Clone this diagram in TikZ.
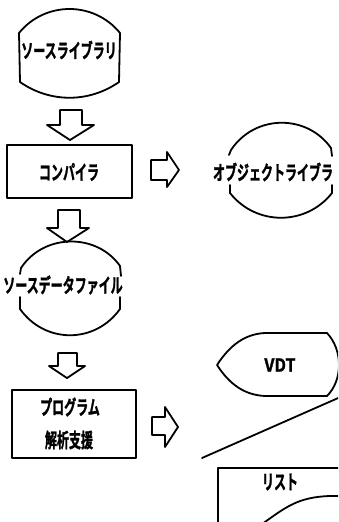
\documentclass[tikz,border=0pt]{standalone}
\usepackage{fontspec}
\newfontfamily\jp[FakeStretch=0.6,FakeBold=1.2]{Noto Sans CJK JP Bold}
\newfontfamily\jplatin[FakeStretch=0.9,FakeBold=1.2]{Noto Sans CJK JP Bold}
\begin{document}
\begin{tikzpicture}[x=1pt,y=-1pt,
  outline/.style={line width=1.8pt,line join=round,line cap=round},
  label/.style={font=\jp\fontsize{20}{20}\selectfont,inner sep=0pt},
  latinlabel/.style={font=\jplatin\fontsize{18}{18}\selectfont,inner sep=0pt}]
\useasboundingbox (0,0) rectangle (338,522);
\fill[white] (0,0) rectangle (338,522);
\begin{scope}
\clip (0,0) rectangle (338,522);

% source library (storage symbol)
\draw[outline] (20,82) -- (19,33) .. controls (45,1) and (94,1) .. (120,33) -- (119,82)
  .. controls (89,103) and (50,103) .. cycle;
\node[label] (srclib) at (69,50) {ソースライブラリ};

% arrow: source library -> compiler
\draw[outline] (60,110) -- (60,125) -- (47,125) -- (70,140) -- (94,125) -- (82,125) -- (82,110) -- cycle;

% compiler
\draw[outline] (7,145) rectangle (132,198);
\node[label] (comp) at (69,172) {コンパイラ};

% arrow: compiler -> object library
\draw[outline] (151,160) -- (167,160) -- (167,152) -- (179,170) -- (167,187) -- (167,180) -- (151,180) -- cycle;

% object library
\draw[outline] (229,155) -- (231,150) .. controls (255,114) and (307,114) .. (331,148) -- (332,156);
\draw[outline] (230,185) -- (230,193) .. controls (256,226) and (306,226) .. (332,193) -- (332,185);
\node[label] (objlib) at (273,172) {オブジェクトライブラ};

% arrow: compiler -> source data file
\draw[outline] (58,210) -- (58,228) -- (47,228) -- (67,242) -- (89,228) -- (80,228) -- (80,210) -- cycle;

% source data file
\draw[outline] (20,274) -- (21,268) .. controls (44,233) and (97,233) .. (120,266) -- (121,276);
\draw[outline] (20,297) -- (20,309) .. controls (45,344) and (95,344) .. (120,309) -- (120,297);
\node[label] (srcdata) at (63,285) {ソースデータファイル};

% arrow: source data file -> analysis
\draw[outline] (58,353) -- (58,366) -- (49,366) -- (67,378) -- (85,366) -- (77,366) -- (77,353) -- cycle;

% program analysis support
\draw[outline] (12,390) rectangle (136,458);
\node[label] (prog) at (70,407) {プログラム};
\node[label] (anl) at (69,440) {解析支援};

% arrow: analysis -> outputs
\draw[outline] (152,417) -- (165,417) -- (165,407) -- (178,427) -- (165,447) -- (165,435) -- (152,435) -- cycle;

% display (VDT)
\draw[outline] (217,365) .. controls (230,345) and (245,334) .. (265,333) -- (327,333)
  .. controls (343,350) and (343,380) .. (327,396) -- (265,396)
  .. controls (245,395) and (230,385) .. cycle;
\node[latinlabel] (vdt) at (280,365) {VDT};

% slanted edge
\draw[outline] (202,458) -- (345,395);

% list (document symbol)
\draw[outline] (218,530) -- (218,468) -- (345,468);
\draw[outline] (262,524) .. controls (285,508) and (297,497) .. (330,496) -- (345,496);
\node[label] (list) at (280,482) {リスト};
\end{scope}
\end{tikzpicture}
\end{document}
